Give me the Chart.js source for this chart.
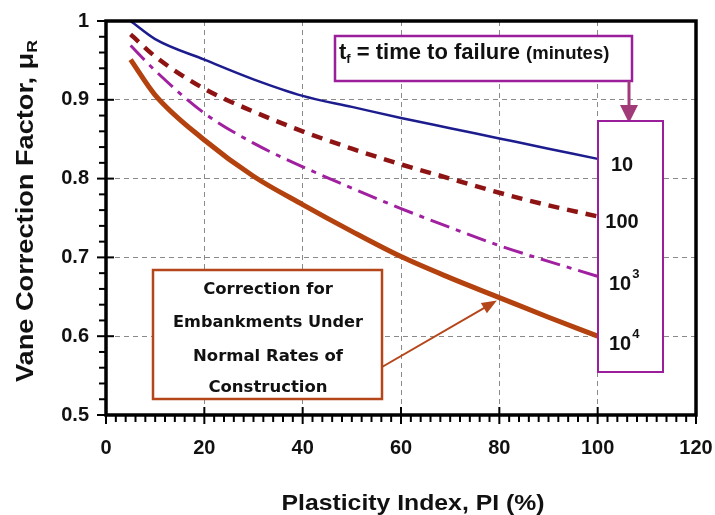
<!DOCTYPE html>
<html>
<head>
<meta charset="utf-8">
<script src="https://cdn.jsdelivr.net/npm/chart.js@4.4.1/dist/chart.umd.min.js"></script>
<style>
  html, body { margin: 0; padding: 0; background: #fff; }
  #wrap { width: 715px; height: 515px; }
</style>
</head>
<body>
<div id="wrap"><canvas id="chart" width="715" height="515"></canvas></div>
<script>
// plasticity index (%) where each curve was read
const plasticityIndex = [5, 10, 20, 30, 40, 50, 60, 70, 80, 90, 100];

// vane correction factor for each time to failure
const factorT10 = [1.0, 0.977, 0.951, 0.926, 0.905, 0.891, 0.877, 0.864, 0.851, 0.838, 0.825];
const factorT100 = [0.983, 0.955, 0.914, 0.885, 0.860, 0.838, 0.818, 0.800, 0.782, 0.766, 0.752];
const factorT1000 = [0.969, 0.937, 0.883, 0.845, 0.815, 0.788, 0.762, 0.738, 0.715, 0.695, 0.676];
const factorT10000 = [0.951, 0.906, 0.849, 0.803, 0.767, 0.733, 0.701, 0.674, 0.649, 0.624, 0.600];

const timeBase = ["10", "100", "10", "10"];
const timeExponent = ["", "", "3", "4"];

const xTicks = [0, 20, 40, 60, 80, 100, 120];
const yTicks = [0.5, 0.6, 0.7, 0.8, 0.9, 1];

const noteLines = ["Correction for", "Embankments Under", "Normal Rates of", "Construction"];

const FONT = "'Liberation Sans', Arial, sans-serif";

function toPoints(values) {
    return plasticityIndex.map((pi, i) => ({ x: pi, y: values[i] }));
}

function stretchText(ctx, text, x, y, width) {
    const w = ctx.measureText(text).width;
    ctx.save();
    ctx.translate(x, y);
    ctx.scale(width / w, 1);
    ctx.fillText(text, 0, 0);
    ctx.restore();
}

const decorations = {
    id: "decorations",
    afterDraw(chart) {
        const { ctx, chartArea: a, scales: { x, y } } = chart;
        ctx.save();

        // frame
        ctx.strokeStyle = "#000";
        ctx.lineWidth = 3.5;
        ctx.strokeRect(a.left, a.top, a.right - a.left, a.bottom - a.top);

        // tick marks
        ctx.lineWidth = 2;
        for (let v = 0; v <= 120; v += 2) {
            const px = x.getPixelForValue(v);
            const major = v % 20 === 0;
            ctx.beginPath();
            ctx.moveTo(px, major ? a.bottom - 8 : a.bottom);
            ctx.lineTo(px, a.bottom + (major ? 9 : 7));
            ctx.stroke();
        }
        for (let i = 0; i <= 25; i++) {
            const v = 0.5 + i * 0.02;
            const py = y.getPixelForValue(v);
            const major = i % 5 === 0;
            ctx.beginPath();
            ctx.moveTo(major ? a.left + 8 : a.left, py);
            ctx.lineTo(a.left - (major ? 9 : 7), py);
            ctx.stroke();
        }

        // axis titles
        ctx.fillStyle = "#111";
        ctx.textAlign = "center";
        ctx.textBaseline = "alphabetic";
        ctx.font = "bold 22px " + FONT;
        stretchText(ctx, "Plasticity Index, PI (%)", 413, 510, 263);

        ctx.save();
        ctx.translate(33, 211);
        ctx.rotate(-Math.PI / 2);
        ctx.font = "bold 23px " + FONT;
        const main = "Vane Correction Factor, \u03bc";
        const mainW = ctx.measureText(main).width;
        ctx.font = "bold 15px " + FONT;
        const subW = ctx.measureText("R").width;
        const total = mainW + subW;
        const sx = 342 / total;
        ctx.scale(sx, 1);
        ctx.textAlign = "left";
        ctx.font = "bold 23px " + FONT;
        ctx.fillText(main, -total / 2, 0);
        ctx.font = "bold 15px " + FONT;
        ctx.fillText("R", -total / 2 + mainW, 4);
        ctx.restore();

        // time-to-failure box
        ctx.fillStyle = "#fff";
        ctx.strokeStyle = "#9b1f9b";
        ctx.lineWidth = 2.5;
        ctx.fillRect(335, 36, 297, 45);
        ctx.strokeRect(335, 36, 297, 45);
        ctx.fillStyle = "#111";
        ctx.textAlign = "left";
        let tx = 339;
        ctx.font = "bold 22px " + FONT;
        ctx.fillText("t", tx, 59);
        tx += ctx.measureText("t").width;
        ctx.font = "bold 13px " + FONT;
        ctx.fillText("f", tx, 63);
        tx += ctx.measureText("f").width;
        ctx.font = "bold 22px " + FONT;
        ctx.fillText(" = time to failure ", tx, 59);
        tx += ctx.measureText(" = time to failure ").width;
        ctx.font = "bold 18.5px " + FONT;
        ctx.fillText("(minutes)", tx, 59);

        // arrow down to the label box
        ctx.strokeStyle = "#a03a78";
        ctx.fillStyle = "#a03a78";
        ctx.lineWidth = 3;
        ctx.beginPath();
        ctx.moveTo(629, 81);
        ctx.lineTo(629, 106);
        ctx.stroke();
        ctx.beginPath();
        ctx.moveTo(620, 105);
        ctx.lineTo(638, 105);
        ctx.lineTo(629, 123);
        ctx.closePath();
        ctx.fill();

        // label box for the curves
        ctx.fillStyle = "#fff";
        ctx.strokeStyle = "#9b1f9b";
        ctx.lineWidth = 2;
        ctx.fillRect(598, 121, 65, 251);
        ctx.strokeRect(598, 121, 65, 251);
        ctx.fillStyle = "#111";
        chart.data.datasets.forEach((ds, i) => {
            const last = ds.data[ds.data.length - 1];
            const by = y.getPixelForValue(last.y) + 12;
            if (timeExponent[i]) {
                ctx.textAlign = "left";
                ctx.font = "bold 20px " + FONT;
                ctx.fillText(timeBase[i], 609, by + 2);
                const w = ctx.measureText(timeBase[i]).width;
                ctx.font = "bold 13px " + FONT;
                ctx.fillText(timeExponent[i], 609 + w + 1, by - 10);
            } else {
                ctx.textAlign = "center";
                ctx.font = "bold 20px " + FONT;
                ctx.fillText(timeBase[i], 622, by);
            }
        });

        // note box
        ctx.fillStyle = "#fff";
        ctx.strokeStyle = "#b5461a";
        ctx.lineWidth = 2.5;
        ctx.fillRect(153, 270, 229, 129);
        ctx.strokeRect(153, 270, 229, 129);
        ctx.fillStyle = "#111";
        ctx.textAlign = "center";
        ctx.font = "bold 16.5px 'DejaVu Sans', sans-serif";
        const baselines = [294, 327, 361, 392];
        noteLines.forEach((line, i) => ctx.fillText(line, 268, baselines[i], 190));

        // arrow from note to the 10^4 curve
        const tipX = x.getPixelForValue(79.5);
        const tipY = y.getPixelForValue(factorT10000[8]) + 3;
        const fromX = 382, fromY = 367;
        const ang = Math.atan2(tipY - fromY, tipX - fromX);
        ctx.strokeStyle = "#b5461a";
        ctx.fillStyle = "#b5461a";
        ctx.lineWidth = 2;
        ctx.beginPath();
        ctx.moveTo(fromX, fromY);
        ctx.lineTo(tipX - 12 * Math.cos(ang), tipY - 12 * Math.sin(ang));
        ctx.stroke();
        ctx.beginPath();
        ctx.moveTo(tipX, tipY);
        ctx.lineTo(tipX - 15 * Math.cos(ang) + 6 * Math.sin(ang), tipY - 15 * Math.sin(ang) - 6 * Math.cos(ang));
        ctx.lineTo(tipX - 15 * Math.cos(ang) - 6 * Math.sin(ang), tipY - 15 * Math.sin(ang) + 6 * Math.cos(ang));
        ctx.closePath();
        ctx.fill();

        ctx.restore();
    }
};

const canvas = document.getElementById("chart");

new Chart(canvas, {
    type: "line",
    data: {
        datasets: [
            { label: "10", data: toPoints(factorT10), borderColor: "#1c1c8e", borderWidth: 2.5 },
            { label: "100", data: toPoints(factorT100), borderColor: "#8e1414", borderWidth: 4.5, borderDash: [11, 8] },
            { label: "1000", data: toPoints(factorT1000), borderColor: "#a020a0", borderWidth: 3, borderDash: [20, 7, 5, 7] },
            { label: "10000", data: toPoints(factorT10000), borderColor: "#b3420e", borderWidth: 5 }
        ]
    },
    options: {
        responsive: false,
        animation: false,
        devicePixelRatio: 1,
        layout: { padding: { top: 21, right: 19, left: 0, bottom: 0 } },
        plugins: { legend: { display: false }, tooltip: { enabled: false } },
        elements: {
            point: { radius: 0 },
            line: { cubicInterpolationMode: "monotone", fill: false }
        },
        scales: {
            x: {
                type: "linear",
                min: xTicks[0],
                max: xTicks[xTicks.length - 1],
                afterFit: s => { s.height = 100; s.paddingLeft = 0; s.paddingRight = 0; },
                afterBuildTicks: s => { s.ticks = xTicks.map(v => ({ value: v })); },
                ticks: { padding: 21, color: "#111", font: { family: FONT, size: 20, weight: "bold" } },
                grid: {
                    drawTicks: false,
                    lineWidth: 1,
                    color: c => (c.tick && c.tick.value > 0 && c.tick.value < 120) ? "#8a8a8a" : "rgba(0,0,0,0)"
                },
                border: { display: false, dash: [5, 4] }
            },
            y: {
                type: "linear",
                min: yTicks[0],
                max: yTicks[yTicks.length - 1],
                afterFit: s => { s.width = 106; s.paddingTop = 0; s.paddingBottom = 0; },
                afterBuildTicks: s => { s.ticks = yTicks.map(v => ({ value: v })); },
                ticks: {
                    padding: 17,
                    color: "#111",
                    font: { family: FONT, size: 20, weight: "bold" },
                    callback: v => String(Number(v.toFixed(1)))
                },
                grid: {
                    drawTicks: false,
                    lineWidth: 1,
                    color: c => (c.tick && c.tick.value > 0.5 && c.tick.value < 1) ? "#8a8a8a" : "rgba(0,0,0,0)"
                },
                border: { display: false, dash: [5, 4] }
            }
        }
    },
    plugins: [decorations]
});
</script>
</body>
</html>
